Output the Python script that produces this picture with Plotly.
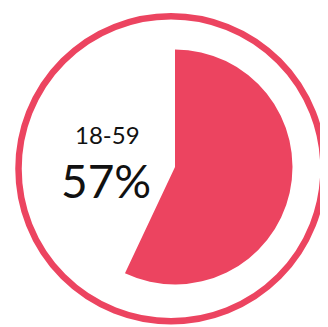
import plotly.graph_objects as go

labels = ["18-59", "Other"]
values = [57, 43]
title_label = "18-59"
pct_text = "57%"

OFF = 8  # default page body margin
W, H = 328 - OFF, 327 - OFF
RED = "#EC4460"

def px(x):
    return (x - OFF) / W

def py(y):
    return 1 - (y - OFF) / H

# pie geometry (page pixels)
pcx, pcy, pr = 175, 167, 117.5
# ring geometry (page pixels)
rcx, rcy, rr, rw = 171, 168.7, 152.5, 6.5

fig = go.Figure()
fig.add_trace(go.Pie(
    labels=labels,
    values=values,
    sort=False,
    direction="clockwise",
    rotation=0,
    marker=dict(colors=[RED, "rgba(0,0,0,0)"], line=dict(width=0)),
    textinfo="none",
    hoverinfo="none",
    showlegend=False,
    domain=dict(x=[px(pcx - pr), px(pcx + pr)],
                y=[py(pcy + pr), py(pcy - pr)]),
))

fig.add_shape(type="circle", xref="paper", yref="paper",
              x0=px(rcx - rr), x1=px(rcx + rr),
              y0=py(rcy + rr), y1=py(rcy - rr),
              line=dict(color=RED, width=rw), fillcolor="rgba(0,0,0,0)")

fig.add_annotation(text=title_label, x=px(107), y=py(134), xref="paper", yref="paper",
                   showarrow=False, xanchor="center", yanchor="middle",
                   font=dict(family="Lato", size=24, color="#111111"))
fig.add_annotation(text=pct_text, x=px(106), y=py(180), xref="paper", yref="paper",
                   showarrow=False, xanchor="center", yanchor="middle",
                   font=dict(family="Lato", size=46, color="#111111"))

fig.update_layout(width=W, height=H, margin=dict(l=0, r=0, t=0, b=0),
                  paper_bgcolor="white", plot_bgcolor="white")

fig.write_html("out.html", config={"displayModeBar": False})
